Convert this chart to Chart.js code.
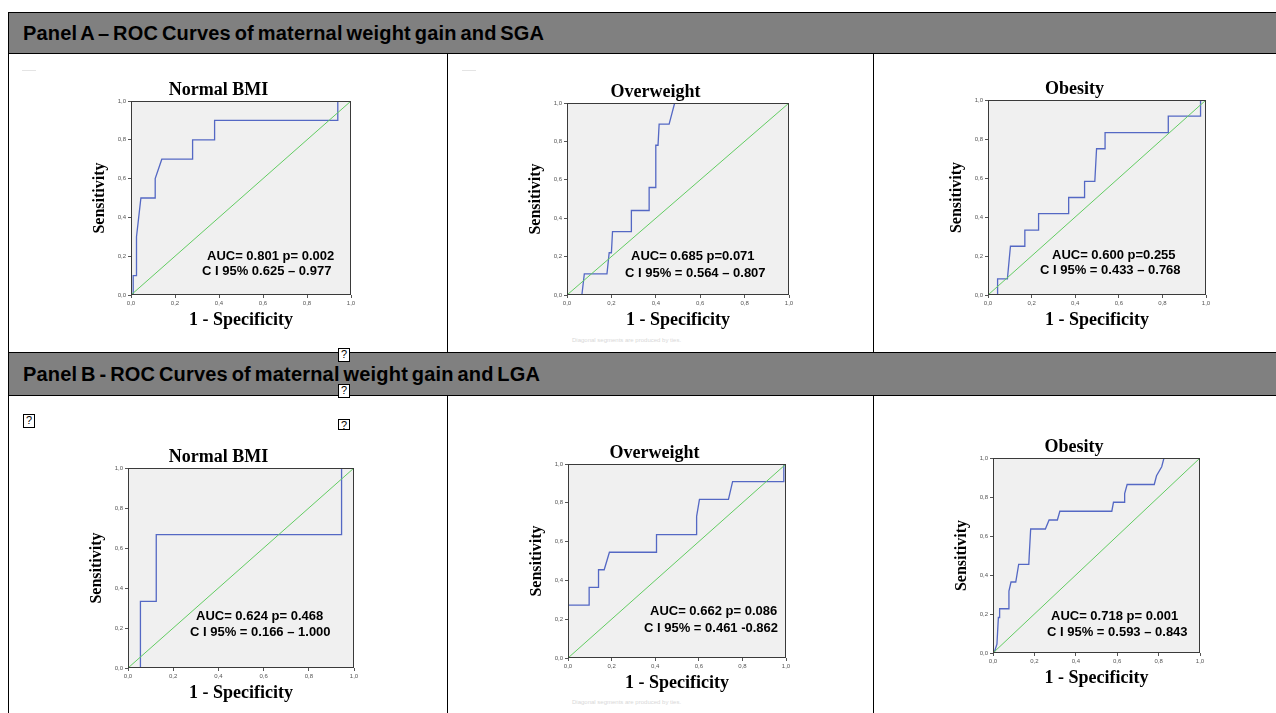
<!DOCTYPE html>
<html>
<head>
<meta charset="utf-8">
<script src="https://cdn.jsdelivr.net/npm/chart.js@4.4.0/dist/chart.umd.min.js"></script>
<style>
body { margin:0; width:1276px; height:713px; background:#fff; position:relative; overflow:hidden; font-family:"Liberation Sans", Arial, sans-serif; }
.bar { position:absolute; left:8px; width:1280px; background:#808080; border:1px solid #000; box-sizing:border-box; font-weight:bold; font-size:20px; letter-spacing:0.2px; word-spacing:-2px; padding-left:14px; color:#000; }
.vline { position:absolute; width:1px; background:#000; }
.plot { position:absolute; }
.auc { position:absolute; font-weight:bold; font-size:13px; line-height:15px; white-space:nowrap; color:#000; }
.note { position:absolute; font-size:6px; color:#d8d8d8; white-space:nowrap; }
.qbox { position:absolute; border:1px solid #000; font-size:11px; line-height:11px; width:10px; height:12px; text-align:center; background:#fff; }
.dash { position:absolute; height:1px; width:14px; background:#e4e4e4; }
</style>
</head>
<body>
<div class="bar" style="top:12px;height:42px;line-height:40px;">Panel A – ROC Curves of maternal weight gain and SGA</div>
<div class="vline" style="left:8px;top:53px;height:300px;"></div>
<div class="vline" style="left:447px;top:53px;height:300px;"></div>
<div class="vline" style="left:873px;top:53px;height:300px;"></div>
<div class="bar" style="top:352px;height:44px;line-height:42px;">Panel B - ROC Curves of maternal weight gain and LGA</div>
<div class="vline" style="left:8px;top:395px;height:320px;"></div>
<div class="vline" style="left:447px;top:395px;height:320px;"></div>
<div class="vline" style="left:873px;top:395px;height:320px;"></div>

<div class="dash" style="left:22px;top:70px;"></div>
<div class="dash" style="left:462px;top:70px;"></div>
<div class="qbox" style="left:338px;top:348px;">?</div>
<div class="qbox" style="left:338px;top:384px;">?</div>
<div class="qbox" style="left:23px;top:414px;">?</div>
<div class="qbox" style="left:338px;top:419px;height:9px;">?</div>

<canvas class="plot" id="a1"></canvas>
<canvas class="plot" id="a2"></canvas>
<canvas class="plot" id="a3"></canvas>
<canvas class="plot" id="b1"></canvas>
<canvas class="plot" id="b2"></canvas>
<canvas class="plot" id="b3"></canvas>

<div class="auc" style="left:207px;top:248px;">AUC= 0.801 p= 0.002</div>
<div class="auc" style="left:202px;top:263px;">C I 95% 0.625 – 0.977</div>
<div class="auc" style="left:631px;top:248px;">AUC= 0.685 p=0.071</div>
<div class="auc" style="left:625px;top:265px;">C I 95% = 0.564 – 0.807</div>
<div class="auc" style="left:1052px;top:247px;">AUC= 0.600 p=0.255</div>
<div class="auc" style="left:1040px;top:262px;">C I 95% = 0.433 – 0.768</div>
<div class="auc" style="left:196px;top:608px;">AUC= 0.624 p= 0.468</div>
<div class="auc" style="left:190px;top:624px;">C I 95% = 0.166 – 1.000</div>
<div class="auc" style="left:650px;top:603px;">AUC= 0.662 p= 0.086</div>
<div class="auc" style="left:644px;top:620px;">C I 95% = 0.461 -0.862</div>
<div class="auc" style="left:1051px;top:608px;">AUC= 0.718 p= 0.001</div>
<div class="auc" style="left:1047px;top:624px;">C I 95% = 0.593 – 0.843</div>

<div class="note" style="left:572px;top:337px;">Diagonal segments are produced by ties.</div>
<div class="note" style="left:572px;top:699px;">Diagonal segments are produced by ties.</div>

<script>
// reference line
const diagX = [0, 1];
const diagY = [0, 1];

// Panel A - SGA
const sgaNormalFpr = [0, 0.01, 0.01, 0.025, 0.025, 0.035, 0.045, 0.11, 0.11, 0.14, 0.28, 0.28, 0.38, 0.38, 0.94, 0.94, 1];
const sgaNormalTpr = [0, 0, 0.1, 0.1, 0.3, 0.4, 0.5, 0.5, 0.6, 0.7, 0.7, 0.8, 0.8, 0.9, 0.9, 1, 1];

const sgaOverFpr = [0, 0.067, 0.078, 0.18, 0.19, 0.2, 0.205, 0.29, 0.29, 0.37, 0.37, 0.4, 0.4, 0.41, 0.415, 0.46, 0.485, 1];
const sgaOverTpr = [0, 0, 0.11, 0.11, 0.22, 0.22, 0.33, 0.33, 0.44, 0.44, 0.56, 0.56, 0.78, 0.78, 0.89, 0.89, 1, 1];

const sgaObeseFpr = [0, 0.044, 0.044, 0.089, 0.103, 0.169, 0.169, 0.232, 0.232, 0.37, 0.37, 0.443, 0.443, 0.49, 0.498, 0.537, 0.537, 0.827, 0.827, 0.975, 0.975, 1];
const sgaObeseTpr = [0, 0, 0.083, 0.083, 0.25, 0.25, 0.333, 0.333, 0.417, 0.417, 0.5, 0.5, 0.583, 0.583, 0.75, 0.75, 0.833, 0.833, 0.917, 0.917, 1, 1];

// Panel B - LGA
const lgaNormalFpr = [0, 0.055, 0.055, 0.125, 0.125, 0.945, 0.945, 1];
const lgaNormalTpr = [0, 0, 0.333, 0.333, 0.667, 0.667, 1, 1];

const lgaOverFpr = [0, 0, 0.097, 0.097, 0.14, 0.14, 0.166, 0.19, 0.406, 0.406, 0.59, 0.59, 0.603, 0.736, 0.755, 0.99, 0.99, 1];
const lgaOverTpr = [0, 0.273, 0.273, 0.364, 0.364, 0.455, 0.455, 0.545, 0.545, 0.636, 0.636, 0.73, 0.818, 0.818, 0.909, 0.909, 1, 1];

const lgaObeseFpr = [0, 0.005, 0.019, 0.026, 0.032, 0.032, 0.077, 0.077, 0.087, 0.11, 0.124, 0.173, 0.175, 0.182, 0.253, 0.271, 0.311, 0.323, 0.574, 0.582, 0.634, 0.636, 0.648, 0.779, 0.79, 0.815, 0.826, 1];
const lgaObeseTpr = [0, 0, 0.045, 0.182, 0.182, 0.227, 0.227, 0.318, 0.364, 0.364, 0.455, 0.455, 0.5, 0.636, 0.636, 0.682, 0.682, 0.727, 0.727, 0.773, 0.773, 0.818, 0.864, 0.864, 0.909, 0.955, 1, 1];

const plotFrame = {
  id: 'plotFrame',
  beforeDatasetsDraw(chart) {
    const {ctx, chartArea: a} = chart;
    ctx.save();
    ctx.fillStyle = '#f0f0f0';
    ctx.fillRect(a.left, a.top, a.width, a.height);
    ctx.restore();
  },
  afterDatasetsDraw(chart) {
    const {ctx, chartArea: a} = chart;
    ctx.save();
    ctx.strokeStyle = '#3a3a3a';
    ctx.lineWidth = 1;
    ctx.strokeRect(Math.round(a.left) + 0.5, Math.round(a.top) + 0.5, Math.round(a.width) - 1, Math.round(a.height) - 1);
    ctx.restore();
  }
};

function pts(xs, ys) {
  return xs.map((x, i) => ({x: x, y: ys[i]}));
}

function rocChart(id, title, fpr, tpr, box) {
  // box = plot area [left, top, width, height] on the page
  const el = document.getElementById(id);
  const yAxisW = 45, xAxisH = 40, titleH = 30, padR = 10;
  const w = yAxisW + box[2] + padR;
  const h = titleH + box[3] + xAxisH;
  el.width = w; el.height = h;
  el.style.left = (box[0] - yAxisW) + 'px';
  el.style.top = (box[1] - titleH) + 'px';
  el.style.width = w + 'px';
  el.style.height = h + 'px';

  const serif = '"Liberation Serif", "Times New Roman", serif';
  const tickOpts = {
    stepSize: 0.2,
    font: {size: 6, family: 'Liberation Sans'},
    color: '#555',
    padding: 2,
    callback: v => v.toFixed(1).replace('.', ',')
  };
  const gridOpts = {display: true, drawOnChartArea: false, drawTicks: true, tickLength: 3, color: '#555'};

  new Chart(el, {
    type: 'scatter',
    data: {
      datasets: [
        {
          label: 'Reference',
          data: pts(diagX, diagY),
          showLine: true,
          borderColor: '#62cc62',
          borderWidth: 1,
          pointRadius: 0,
        },
        {
          label: 'ROC',
          data: pts(fpr, tpr),
          showLine: true,
          borderColor: '#5468c4',
          borderWidth: 1.3,
          pointRadius: 0,
        },
      ]
    },
    options: {
      responsive: false,
      animation: false,
      devicePixelRatio: 1,
      layout: {padding: {left: 0, right: padR, top: 0, bottom: 0}},
      scales: {
        x: {
          type: 'linear', min: 0, max: 1,
          ticks: tickOpts,
          grid: gridOpts,
          border: {display: false},
          title: {display: true, text: '1 - Specificity', color: '#000', font: {family: serif, size: 18, weight: 'bold'}},
          afterFit: s => { s.height = xAxisH; }
        },
        y: {
          type: 'linear', min: 0, max: 1,
          ticks: tickOpts,
          grid: gridOpts,
          border: {display: false},
          title: {display: true, text: 'Sensitivity', color: '#000', font: {family: serif, size: 16, weight: 'bold'}},
          afterFit: s => { s.width = yAxisW; }
        },
      },
      plugins: {
        legend: {display: false},
        tooltip: {enabled: false},
        title: {
          display: true,
          text: title,
          color: '#000',
          font: {family: serif, size: 18, weight: 'bold', lineHeight: 1.2},
          padding: {top: 8.4, bottom: 0},
        },
      },
    },
    plugins: [plotFrame]
  });
}

rocChart('a1', 'Normal BMI', sgaNormalFpr, sgaNormalTpr, [131, 101, 220, 194]);
rocChart('a2', 'Overweight', sgaOverFpr, sgaOverTpr, [567, 103, 222, 192]);
rocChart('a3', 'Obesity', sgaObeseFpr, sgaObeseTpr, [988, 100, 218, 195]);
rocChart('b1', 'Normal BMI', lgaNormalFpr, lgaNormalTpr, [128, 468, 226, 200]);
rocChart('b2', 'Overweight', lgaOverFpr, lgaOverTpr, [568, 464, 218, 194]);
rocChart('b3', 'Obesity', lgaObeseFpr, lgaObeseTpr, [993, 458, 207, 195]);
</script>
</body>
</html>
